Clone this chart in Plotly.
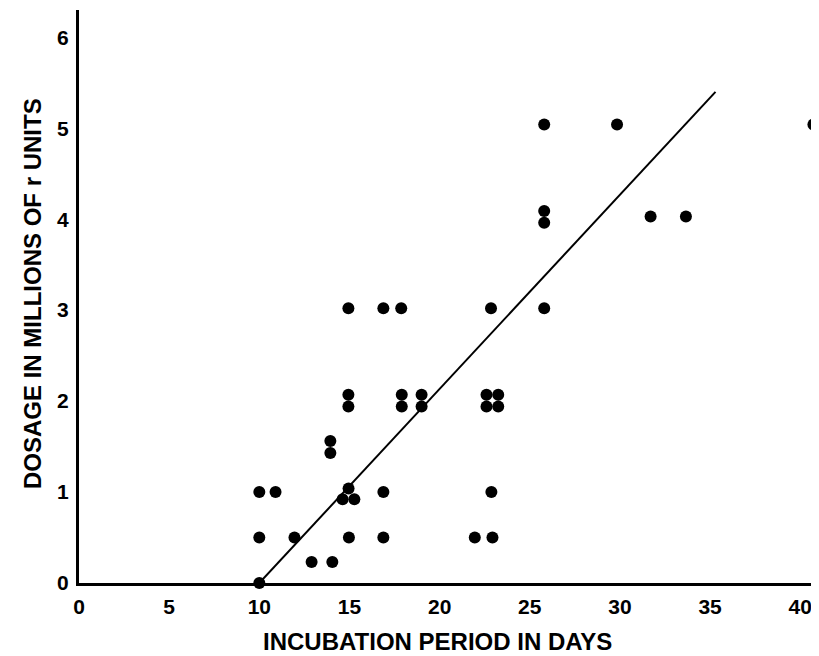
import plotly.graph_objects as go

# Data
incubation_days = [10, 10, 10.9, 10, 11.95, 12.9, 14.05, 14.95, 14.62, 15.27, 14.97,
                   16.88, 16.88, 13.94, 13.94,
                   14.94, 16.88, 17.87, 22.85, 14.94, 14.94, 17.9, 17.9, 19.0, 19.0,
                   22.6, 23.25, 22.6, 23.25, 22.87, 21.95, 22.93,
                   25.8, 29.84, 40.73, 25.8, 25.8, 31.7, 33.66, 25.8]
dosage_millions = [0, 1.0, 1.0, 0.5, 0.5, 0.23, 0.23, 1.04, 0.92, 0.92, 0.5,
                   1.0, 0.5, 1.43, 1.56,
                   3.02, 3.02, 3.02, 3.02, 2.07, 1.94, 2.07, 1.94, 2.07, 1.94,
                   2.07, 2.07, 1.94, 1.94, 1.0, 0.5, 0.5,
                   5.04, 5.04, 5.04, 4.09, 3.96, 4.03, 4.03, 3.02]

fit_x = [10, 35.3]
fit_y = [0, 5.4]

x_ticks = [0, 5, 10, 15, 20, 25, 30, 35, 40]
y_ticks = [0, 1, 2, 3, 4, 5, 6]

fig = go.Figure()
fig.add_trace(go.Scatter(x=fit_x, y=fit_y, mode="lines",
                         line=dict(color="black", width=2), cliponaxis=False,
                         showlegend=False, hoverinfo="skip"))
fig.add_trace(go.Scatter(x=incubation_days, y=dosage_millions, mode="markers",
                         marker=dict(color="black", size=12, line=dict(width=0)),
                         cliponaxis=False, showlegend=False))

font_family = "Liberation Sans"
fig.update_layout(
    width=811, height=648,
    margin=dict(l=71, r=0, t=2, b=73),
    paper_bgcolor="white", plot_bgcolor="white",
    font=dict(family=font_family, color="black"),
    xaxis=dict(range=[0, 41.04], tickvals=x_ticks, ticktext=[str(v) for v in x_ticks],
               showgrid=False, zeroline=False, showline=True, linecolor="black",
               linewidth=3, ticks="", ticklabelstandoff=3,
               tickfont=dict(family=font_family, size=21, weight="bold")),
    yaxis=dict(range=[0, 6.3], tickvals=y_ticks, ticktext=[str(v) for v in y_ticks],
               showgrid=False, zeroline=False, showline=True, linecolor="black",
               linewidth=3, ticks="", ticklabelstandoff=3,
               tickfont=dict(family=font_family, size=21, weight="bold")),
    annotations=[
        dict(text="INCUBATION PERIOD IN DAYS", xref="paper", yref="paper",
             x=0.4838, y=-0.1024, xanchor="center", yanchor="middle",
             showarrow=False, font=dict(family=font_family, size=24, weight="bold")),
        dict(text="DOSAGE IN MILLIONS OF r UNITS", xref="paper", yref="paper",
             x=-0.062, y=0.5046, xanchor="center", yanchor="middle", textangle=-90,
             showarrow=False, font=dict(family=font_family, size=24, weight="bold")),
    ],
)

fig.write_html("out.html")
